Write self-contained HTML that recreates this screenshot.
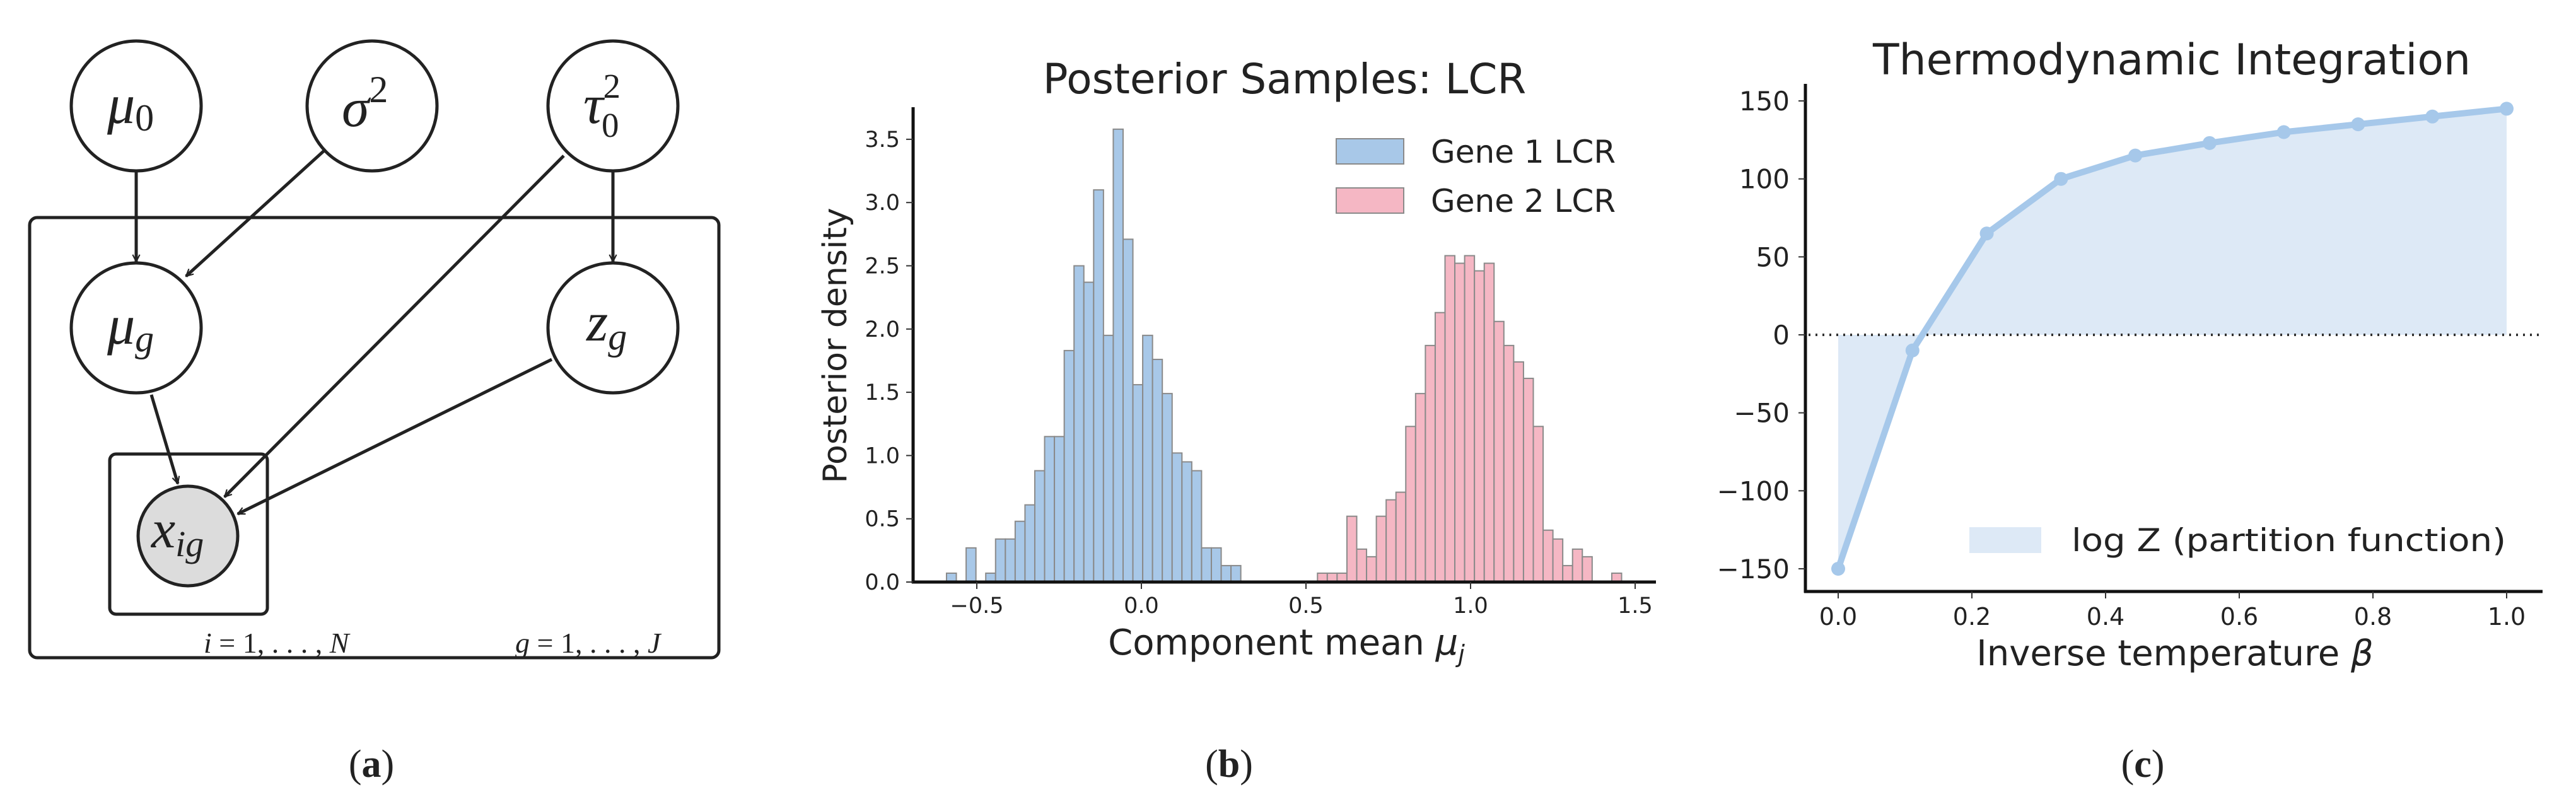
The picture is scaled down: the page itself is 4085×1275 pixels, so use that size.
<!DOCTYPE html>
<html><head><meta charset="utf-8"><style>
html,body{margin:0;padding:0;background:#fff;}
svg{display:block;}
text{font-family:"DejaVu Sans","Liberation Sans",sans-serif;fill:#222;}
</style></head><body>
<svg id="fig" width="4085" height="1275" viewBox="0 0 4085 1275" xmlns="http://www.w3.org/2000/svg">
<defs>
<marker id="ah" viewBox="0 0 20 20" refX="18" refY="10" markerWidth="14" markerHeight="14" markerUnits="userSpaceOnUse" orient="auto">
<path d="M2,2 L18,10 L2,18" fill="none" stroke="#222" stroke-width="3"/>
</marker>
</defs>
<g stroke="#222" stroke-width="5" fill="none">
<rect x="47" y="345" width="1093" height="698" rx="12"/>
<rect x="174" y="720" width="250" height="254" rx="10"/>
<circle cx="216" cy="168" r="103" fill="#fff"/>
<circle cx="590" cy="168" r="103" fill="#fff"/>
<circle cx="972" cy="168" r="103" fill="#fff"/>
<circle cx="216" cy="520" r="103" fill="#fff"/>
<circle cx="972" cy="520" r="103" fill="#fff"/>
<circle cx="298" cy="850" r="79" fill="#dcdcdc"/>
<line x1="216" y1="271" x2="216" y2="415" marker-end="url(#ah)"/>
<line x1="515" y1="238" x2="295" y2="438" marker-end="url(#ah)"/>
<line x1="972" y1="271" x2="972" y2="415" marker-end="url(#ah)"/>
<line x1="894" y1="247" x2="356" y2="788" marker-end="url(#ah)"/>
<line x1="875" y1="570" x2="377" y2="815" marker-end="url(#ah)"/>
<line x1="240" y1="626" x2="282" y2="767" marker-end="url(#ah)"/>
</g>
<g font-style="italic">
<text x="170" y="195" font-size="88" style="font-family:'Liberation Serif',serif">μ<tspan font-size="60" font-style="normal" dy="12">0</tspan></text>
<text x="542" y="200" font-size="88" style="font-family:'Liberation Serif',serif">σ<tspan font-size="60" font-style="normal" dy="-38">2</tspan></text>
<text x="925" y="195" font-size="88" style="font-family:'Liberation Serif',serif">τ<tspan font-size="55" font-style="normal" dy="-40">2</tspan><tspan font-size="55" font-style="normal" dx="-30" dy="62">0</tspan></text>
<text x="170" y="545" font-size="88" style="font-family:'Liberation Serif',serif">μ<tspan font-size="60" dy="12">g</tspan></text>
<text x="930" y="540" font-size="88" style="font-family:'Liberation Serif',serif">z<tspan font-size="60" dy="14">g</tspan></text>
<text x="240" y="868" font-size="86" style="font-family:'Liberation Serif',serif">x<tspan font-size="58" dy="14">ig</tspan></text>
<text x="323" y="1035" font-size="46" fill="#444" style="font-family:'Liberation Serif',serif">i <tspan font-style="normal">= 1, . . . ,</tspan> N</text>
<text x="817" y="1035" font-size="46" fill="#444" style="font-family:'Liberation Serif',serif">g <tspan font-style="normal">= 1, . . . ,</tspan> J</text>
</g>
<text x="589" y="1232" font-size="62" text-anchor="middle" style="font-family:'Liberation Serif',serif">(<tspan font-weight="bold">a</tspan>)</text>
<text x="1949" y="1232" font-size="62" text-anchor="middle" style="font-family:'Liberation Serif',serif">(<tspan font-weight="bold">b</tspan>)</text>
<text x="3398" y="1232" font-size="62" text-anchor="middle" style="font-family:'Liberation Serif',serif">(<tspan font-weight="bold">c</tspan>)</text>
<g id="panelB"></g>
<g id="panelC"></g>
</svg>
<script>
const NS="http://www.w3.org/2000/svg";
const gene1Start=-0.592;
const gene2Start=0.535;
const binWidth=0.0298;
const gene1Density=[0.07,0,0.27,0,0.07,0.34,0.34,0.48,0.61,0.88,1.15,1.15,1.83,2.50,2.37,3.10,1.95,3.58,2.71,1.56,1.95,1.76,1.49,1.02,0.95,0.88,0.27,0.27,0.13,0.13];
const gene2Density=[0.07,0.07,0.07,0.52,0.26,0.20,0.52,0.65,0.71,1.23,1.49,1.87,2.13,2.58,2.52,2.58,2.46,2.52,2.06,1.87,1.74,1.61,1.23,0.41,0.34,0.13,0.26,0.20,0,0,0.07];
const bYTicks=[0,0.5,1.0,1.5,2.0,2.5,3.0,3.5];
const bXTicks=[-0.5,0,0.5,1.0,1.5];
const betas=[0,1/9,2/9,3/9,4/9,5/9,6/9,7/9,8/9,1];
const logZ=[-150,-10,65,100,115,123,130,135,140,145];
const cYTicks=[-150,-100,-50,0,50,100,150];
const cXTicks=[0,0.2,0.4,0.6,0.8,1.0];

function mk(parent,tag,attrs,txt){const e=document.createElementNS(NS,tag);for(const k in attrs)e.setAttribute(k,attrs[k]);if(txt!==undefined)e.textContent=txt;parent.appendChild(e);return e;}
function fmt(v){return (v<0?"\u2212":"")+Math.abs(v).toFixed(1);}

const B=document.getElementById('panelB');
const bx=v=>1810+v*522;
const by=v=>923-v*200.6;
function drawHist(start,vals,fill,name){
  vals.forEach((v,i)=>{
    if(v<=0)return;
    const x0=bx(start+i*binWidth),x1=bx(start+(i+1)*binWidth);
    const r=mk(B,'rect',{x:x0,y:by(v),width:x1-x0,height:by(0)-by(v),fill:fill,stroke:'#8a8a8a','stroke-width':2});
    
    
  });
}
drawHist(gene1Start,gene1Density,'#a8c8e8','gene1');
drawHist(gene2Start,gene2Density,'#f5b7c4','gene2');
let e=mk(B,'line',{x1:1448,y1:170,x2:1448,y2:925,stroke:'#111','stroke-width':5});

e=mk(B,'line',{x1:1446,y1:923,x2:2626,y2:923,stroke:'#111','stroke-width':5});

bYTicks.forEach(t=>{
  mk(B,'line',{x1:1437,y1:by(t),x2:1448,y2:by(t),stroke:'#333','stroke-width':2});
  const l=mk(B,'text',{x:1427,y:by(t)+12,'font-size':35,'text-anchor':'end',fill:'#333'},t.toFixed(1));
  
  
});
bXTicks.forEach(t=>{
  mk(B,'line',{x1:bx(t),y1:923,x2:bx(t),y2:934,stroke:'#333','stroke-width':2});
  const l=mk(B,'text',{x:bx(t),y:972,'font-size':35,'text-anchor':'middle',fill:'#333'},fmt(t));
  
  
});
e=mk(B,'text',{x:2037,y:148,'font-size':66,'text-anchor':'middle',fill:'#111'},'Posterior Samples: LCR');

e=mk(B,'text',{x:0,y:0,'font-size':52,'text-anchor':'middle',fill:'#111',transform:'translate(1342,548) rotate(-90)'},'Posterior density');

e=mk(B,'text',{x:2040,y:1038,'font-size':56,'text-anchor':'middle',fill:'#111'});

e.innerHTML='Component mean <tspan font-style="italic">μ</tspan><tspan font-style="italic" font-size="38" dy="12">j</tspan>';
[['#a8c8e8','Gene 1 LCR',220],['#f5b7c4','Gene 2 LCR',298]].forEach((d,i)=>{
  const r=mk(B,'rect',{x:2119,y:d[2],width:107,height:40,fill:d[0],stroke:'#8a8a8a','stroke-width':2});
  
  
  const t=mk(B,'text',{x:2269,y:d[2]+38,'font-size':50,fill:'#111'},d[1]);
  
  
});

const C=document.getElementById('panelC');
const cx=b=>2915+b*1060;
const cy=v=>531-v*2.473;
let pts=betas.map((b,i)=>cx(b)+','+cy(logZ[i])).join(' ');
e=mk(C,'polygon',{points:cx(betas[0])+','+cy(0)+' '+pts+' '+cx(betas[betas.length-1])+','+cy(0),fill:'#dde9f6'});

e=mk(C,'line',{x1:2868,y1:cy(0),x2:4030,y2:cy(0),stroke:'#333','stroke-width':4,'stroke-dasharray':'3,8'});

e=mk(C,'polyline',{points:pts,fill:'none',stroke:'#a6c8ea','stroke-width':10,'stroke-linejoin':'round'});

betas.forEach((b,i)=>{
  const p=mk(C,'circle',{cx:cx(b),cy:cy(logZ[i]),r:11,fill:'#a6c8ea'});
  
  
});
e=mk(C,'line',{x1:2863,y1:133,x2:2863,y2:940,stroke:'#111','stroke-width':5});

e=mk(C,'line',{x1:2861,y1:938,x2:4032,y2:938,stroke:'#111','stroke-width':5});

cYTicks.forEach(t=>{
  mk(C,'line',{x1:2852,y1:cy(t),x2:2863,y2:cy(t),stroke:'#333','stroke-width':2});
  const l=mk(C,'text',{x:2838,y:cy(t)+15,'font-size':42,'text-anchor':'end',fill:'#333'},(t<0?'\u2212':'')+Math.abs(t));
  
  
});
cXTicks.forEach(t=>{
  mk(C,'line',{x1:cx(t),y1:938,x2:cx(t),y2:949,stroke:'#333','stroke-width':2});
  const l=mk(C,'text',{x:cx(t),y:991,'font-size':38,'text-anchor':'middle',fill:'#333'},t.toFixed(1));
  
  
});
e=mk(C,'text',{x:3444,y:118,'font-size':68,'text-anchor':'middle',fill:'#111'},'Thermodynamic Integration');

e=mk(C,'text',{x:3449,y:1055,'font-size':56,'text-anchor':'middle',fill:'#111'});

e.innerHTML='Inverse temperature <tspan font-style="italic">β</tspan>';
e=mk(C,'rect',{x:3123,y:836,width:114,height:41,fill:'#dde9f6'});

e=mk(C,'text',{x:3285,y:874,'font-size':50,fill:'#111',textLength:689,lengthAdjust:'spacingAndGlyphs'},'log Z (partition function)');

</script>
</body></html>
